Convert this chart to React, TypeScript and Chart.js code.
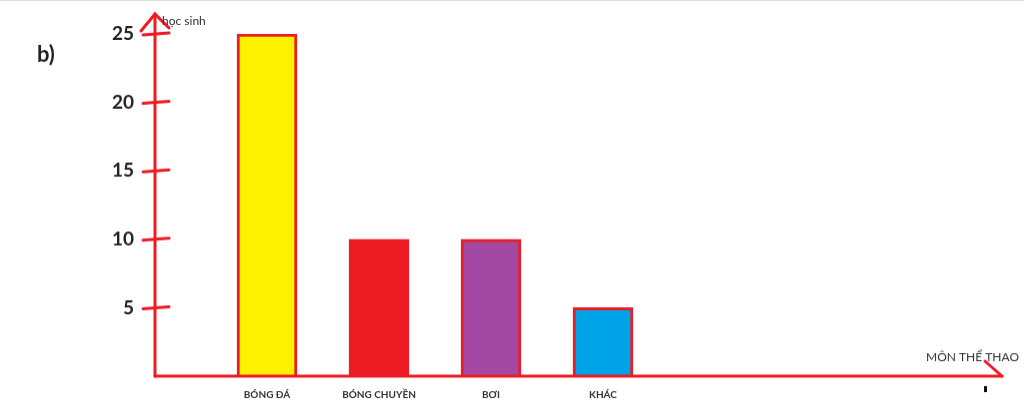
import React, { useEffect, useRef } from "react";
import { Chart, registerables } from "chart.js";

Chart.register(...registerables);

const categories = ["BÓNG ĐÁ", "BÓNG CHUYỀN", "BƠI", "KHÁC"];
const values = [25, 10, 10, 5];
const fillColors = ["#FFF200", "#ED1C24", "#A349A4", "#00A2E8"];
const yTicks = [5, 10, 15, 20, 25];
const yAxisTitle = "học sinh";
const xAxisTitle = "MÔN THỂ THAO";
const partLabel = "b)";

const RED = "#ED1C24";

const axesPlugin = {
  id: "handAxes",
  afterDraw(chart: any) {
    const { ctx, chartArea, scales } = chart;
    const y = scales.y;
    const x0 = chartArea.left;
    const yZero = y.getPixelForValue(0);
    ctx.save();
    ctx.strokeStyle = RED;
    ctx.lineWidth = 3;
    ctx.lineCap = "round";
    // y axis
    ctx.beginPath();
    ctx.moveTo(x0, yZero);
    ctx.lineTo(x0, 13);
    ctx.stroke();
    // arrow head
    ctx.beginPath();
    ctx.moveTo(141, 30);
    ctx.lineTo(x0, 13);
    ctx.lineTo(169, 27);
    ctx.stroke();
    // tick marks
    yTicks.forEach((v) => {
      const py = y.getPixelForValue(v);
      ctx.beginPath();
      ctx.moveTo(x0 - 12, py + 1);
      ctx.lineTo(x0 + 14, py - 1);
      ctx.stroke();
    });
    // x axis
    ctx.beginPath();
    ctx.moveTo(x0, yZero);
    ctx.lineTo(1002, yZero);
    ctx.stroke();
    ctx.beginPath();
    ctx.moveTo(985, yZero - 15);
    ctx.lineTo(1002, yZero);
    ctx.stroke();
    // small mark
    ctx.fillStyle = "#111";
    ctx.fillRect(984, yZero + 10, 3, 6);
    // texts
    ctx.fillStyle = "#333";
    ctx.font = "12px Lato";
    ctx.textBaseline = "middle";
    ctx.textAlign = "left";
    ctx.fillText(yAxisTitle, 162, 20);
    ctx.fillText(xAxisTitle, 926, 357);
    ctx.fillStyle = "#222";
    ctx.font = "bold 22px Lato";
    ctx.fillText(partLabel, 37, 54);
    ctx.restore();
  },
};

export default function App() {
  const ref = useRef<HTMLCanvasElement>(null);
  useEffect(() => {
    const labels = ["", ...categories, "", ""];
    const data = [null, ...values, null, null];
    const bg = ["transparent", ...fillColors, "transparent", "transparent"];
    const chart = new Chart(ref.current!, {
      type: "bar",
      data: {
        labels,
        datasets: [
          {
            data,
            backgroundColor: bg,
            borderColor: RED,
            borderWidth: 3,
            barThickness: 60,
          },
        ],
      },
      plugins: [axesPlugin],
      options: {
        animation: false,
        responsive: false,
        maintainAspectRatio: false,
        layout: { padding: { top: 33, right: 197, left: 0, bottom: 0 } },
        plugins: { legend: { display: false }, tooltip: { enabled: false } },
        scales: {
          x: {
            type: "category",
            offset: false,
            grid: { display: false, drawTicks: false },
            border: { display: false },
            ticks: {
              autoSkip: false,
              maxRotation: 0,
              padding: 13,
              color: "#333",
              font: { family: "Lato", size: 10, weight: "bold" },
            },
            afterFit: (s: any) => {
              s.height = 44;
            },
          },
          y: {
            type: "linear",
            min: 0,
            max: 25,
            grid: { display: false, drawTicks: false },
            border: { display: false },
            afterBuildTicks: (s: any) => {
              s.ticks = yTicks.map((v) => ({ value: v }));
            },
            ticks: {
              padding: 21,
              color: "#222",
              font: { family: "Lato", size: 19, weight: "bold" },
            },
            afterFit: (s: any) => {
              s.width = 155;
            },
          },
        },
      },
    });
    return () => chart.destroy();
  }, []);
  return (
    <div style={{ position: "fixed", left: 0, top: 0, width: 1024, height: 420, background: "#fff" }}>
      <canvas ref={ref} width={1024} height={420} style={{ borderTop: "1px solid #ddd", boxSizing: "border-box" }} />
    </div>
  );
}
